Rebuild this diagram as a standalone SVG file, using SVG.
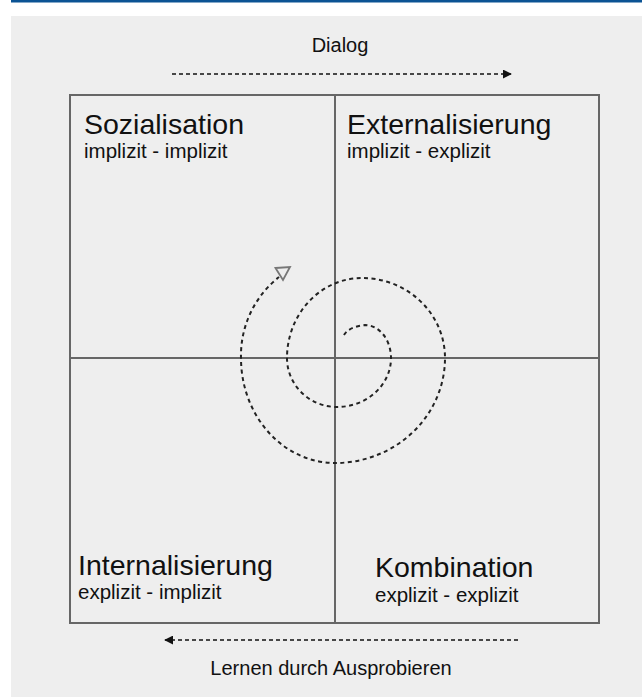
<svg xmlns="http://www.w3.org/2000/svg" width="642" height="697" viewBox="0 0 642 697">
<style>
.big{font-family:"Liberation Sans",Arial,sans-serif;font-size:28.5px;fill:#111}
.small{font-family:"Liberation Sans",Arial,sans-serif;font-size:20.5px;fill:#111}
.lbl{font-family:"Liberation Sans",Arial,sans-serif;font-size:20px;fill:#111}
.grid{stroke:#666;stroke-width:2;fill:none}
.dash{stroke:#111;stroke-width:1.6;stroke-dasharray:4 3;fill:none}
.spiral{stroke:#222;stroke-width:2;stroke-dasharray:4 3.5;fill:none}
</style>
<defs>
<marker id="ah" viewBox="0 0 10 10" refX="9" refY="5" markerWidth="9" markerHeight="9" markerUnits="userSpaceOnUse" orient="auto">
<path d="M0,0 L10,5 L0,10 z" fill="#111"/>
</marker>
</defs>
<rect width="642" height="697" fill="#ffffff"/>
<rect x="11" y="0" width="631" height="2.5" fill="#0b5394"/>
<rect x="11" y="16" width="631" height="681" fill="#eeeeee"/>

<g id="grid">
<rect class="grid" x="70" y="95" width="529" height="528"/>
<line class="grid" x1="335" y1="95" x2="335" y2="623"/>
<line class="grid" x1="70" y1="358" x2="599" y2="358"/>
</g>

<g id="sozialisation">
<text class="big" x="84" y="134">Sozialisation</text>
<text class="small" x="84" y="158">implizit - implizit</text>
</g>
<g id="externalisierung">
<text class="big" x="347" y="134">Externalisierung</text>
<text class="small" x="347" y="158">implizit - explizit</text>
</g>
<g id="internalisierung">
<text class="big" x="78" y="575">Internalisierung</text>
<text class="small" x="78" y="599">explizit - implizit</text>
</g>
<g id="kombination">
<text class="big" x="375" y="577">Kombination</text>
<text class="small" x="375" y="602">explizit - explizit</text>
</g>

<g id="connectors">
<text class="lbl" x="340" y="52" text-anchor="middle">Dialog</text>
<path class="dash" d="M172,74 H511" marker-end="url(#ah)"/>
<path class="dash" d="M518,640 H165" marker-end="url(#ah)"/>
<text class="lbl" x="331" y="675" text-anchor="middle">Lernen durch Ausprobieren</text>
<path class="spiral" d="M344,335 A26,14 0 0 1 365,325 A26,33 0 0 1 391,358 A54,49 0 0 1 337,407 A50,49 0 0 1 287,358 A75,80 0 0 1 362,278 A83,80 0 0 1 445,358 A110,105 0 0 1 335,463 A94,105 0 0 1 241,358 A100,100 0 0 1 279,277"/>
<polygon points="275.5,268 290,267 283,280" fill="none" stroke="#777" stroke-width="1.8" stroke-linejoin="miter"/>
</g>
</svg>
